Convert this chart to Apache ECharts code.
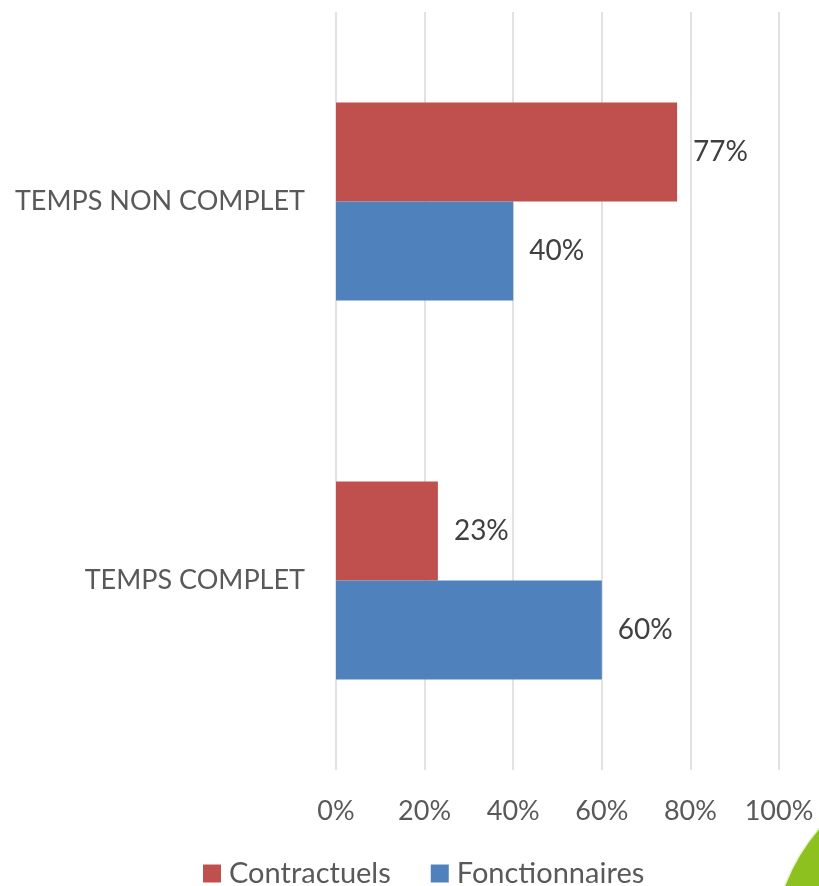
<!DOCTYPE html>
<html>
<head>
<meta charset="utf-8">
<script src="https://cdn.jsdelivr.net/npm/echarts@6/dist/echarts.min.js"></script>
<style>
  html, body { margin: 0; padding: 0; background: #fff; }
  #chart { width: 819px; height: 886px; }
</style>
</head>
<body>
<div id="chart"></div>
<script>
// Répartition par temps de travail
const categories = ['TEMPS COMPLET', 'TEMPS NON COMPLET'];
const contractuels = [23, 77];
const fonctionnaires = [60, 40];
const xTicks = [0, 20, 40, 60, 80, 100];

const FONT = 'Lato, "Open Sans", sans-serif';
const TEXT = '#595959';

const valueLabel = {
  show: true, position: 'right', distance: 16,
  color: '#404040', fontSize: 28, fontFamily: FONT,
  padding: [4, 0, 0, 0],
  formatter: p => p.value + '%'
};

const chart = echarts.init(document.getElementById('chart'));
chart.setOption({
  backgroundColor: '#ffffff',
  animation: false,
  grid: { left: 336, right: 40, top: 12, bottom: 116 },
  legend: {
    data: ['Contractuels', 'Fonctionnaires'],
    left: 203,
    top: 859,
    padding: 0,
    itemWidth: 18,
    itemHeight: 18,
    itemGap: 40,
    icon: 'rect',
    textStyle: { color: TEXT, fontSize: 29, fontFamily: FONT, padding: [0, 0, 0, 3] }
  },
  xAxis: {
    type: 'value',
    min: xTicks[0],
    max: xTicks[xTicks.length - 1],
    interval: 20,
    axisLine: { show: false },
    axisTick: { show: false },
    splitLine: { lineStyle: { color: '#d9d9d9', width: 1.5 } },
    axisLabel: {
      margin: 28,
      color: TEXT,
      fontSize: 27,
      fontFamily: FONT,
      formatter: v => v + '%'
    }
  },
  yAxis: {
    type: 'category',
    data: categories,
    axisLine: { show: false },
    axisTick: { show: false },
    axisLabel: { margin: 31, color: TEXT, fontSize: 27, fontFamily: FONT }
  },
  series: [
    {
      name: 'Contractuels',
      type: 'bar',
      data: contractuels,
      barWidth: 99,
      barGap: '0%',
      itemStyle: { color: '#c0504d' },
      label: valueLabel
    },
    {
      name: 'Fonctionnaires',
      type: 'bar',
      data: fonctionnaires,
      barWidth: 99,
      barGap: '0%',
      itemStyle: { color: '#4f81bd' },
      label: valueLabel
    }
  ],
  graphic: [
    {
      type: 'circle',
      shape: { cx: 965, cy: 955, r: 194 },
      style: { fill: '#8cc11f', stroke: 'rgba(255,255,255,0.8)', lineWidth: 3 },
      silent: true
    }
  ]
});
</script>
</body>
</html>
